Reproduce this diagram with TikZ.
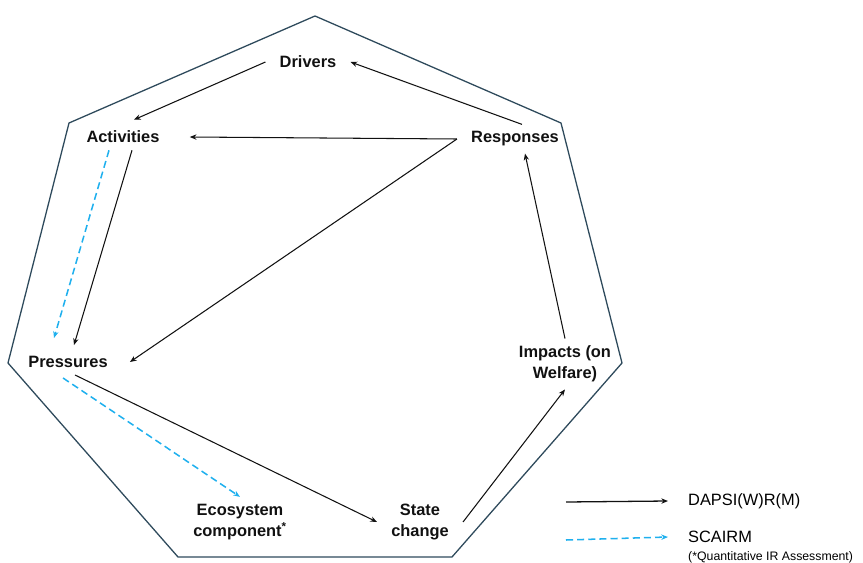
\documentclass[tikz,border=0pt]{standalone}
\usepackage{fontspec}
\setmainfont{Liberation Sans}
\usepackage{tikz}
\usetikzlibrary{positioning,arrows.meta}
\definecolor{dpsline}{HTML}{2E4A5C}
\definecolor{dpsink}{HTML}{111111}
\definecolor{dpsblue}{HTML}{1FB0EE}
\newcommand{\lblfont}{\fontsize{14}{18}\selectfont\bfseries}

\begin{document}
\begin{tikzpicture}[x=0.03cm, y=-0.03cm,
  lbl/.style={font=\lblfont, align=center, inner xsep=12pt, inner ysep=6pt, text=dpsink},
  flow/.style={-{Stealth[length=2mm, width=1.6mm]}, draw=dpsink, line width=0.9pt},
  scflow/.style={-{Stealth[length=2mm, width=1.6mm]}, draw=dpsblue, line width=1.3pt, dash pattern=on 6pt off 3.5pt},
  lgd/.style={font=\fontsize{14}{16}\selectfont, anchor=west, inner xsep=17pt, inner ysep=0pt}]
\useasboundingbox (0,0) rectangle (863,563);
% ===== outline =====
\draw[dpsline, line width=1.1pt] (315,16) -- (561,123) -- (622,363) -- (452,557) -- (178,557) -- (8,363) -- (69,123) -- cycle;
% ===== nodes =====
\node[lbl] (drv) at (308,62) {Drivers};
\node[lbl] (act) at (123,137) {Activities};
\node[lbl] (resp) at (515,139) {Responses};
\node[lbl] (pres) at (68,362) {Pressures};
\node[lbl] (imp) at (565,364) {Impacts (on\\Welfare)};
\node[lbl] (eco) at (240,522) {Ecosystem\\component\textsuperscript{*}};
\node[lbl] (state) at (420,522) {State\\change};
% ===== DAPSI(W)R(M) chain =====
\draw[flow] ([shift={(7,0)}]resp.north) -- (drv.east);
\draw[flow] (drv.west) -- ([shift={(11,-4)}]act.north);
\draw[flow] (resp.west) -- ([shift={(16,0)}]act.east);
\draw[flow] (resp.west) -- ([shift={(8,0)}]pres.east);
\draw[flow] ([shift={(9,0)}]act.south) -- ([shift={(6,-4)}]pres.north);
\draw[flow] ([shift={(7,0)}]pres.south) -- (state.west);
\draw[flow] (state.east) -- (imp.south);
\draw[flow] (imp.north) -- ([shift={(10,0)}]resp.south);
% ===== SCAIRM =====
\draw[scflow] ([shift={(-14,0)}]act.south) -- ([shift={(-14,-11)}]pres.north);
\draw[scflow] ([shift={(-5,3)}]pres.south) -- (eco.north);
% ===== legend =====
\coordinate (k1) at (566,502);
\coordinate (k2) at (566,540);
\node[lgd] (lg1) at (668,501) {DAPSI(W)R(M)};
\node[lgd] (lg2) at (668,537) {SCAIRM};
\draw[flow, line width=1.1pt] (k1) -- (lg1.west);
\draw[scflow] (k2) -- (lg2.west);
\node[font=\fontsize{10.5}{12}\selectfont, anchor=west, inner sep=0pt] (note) at (688,557) {(*Quantitative IR Assessment)};
\end{tikzpicture}
\end{document}
